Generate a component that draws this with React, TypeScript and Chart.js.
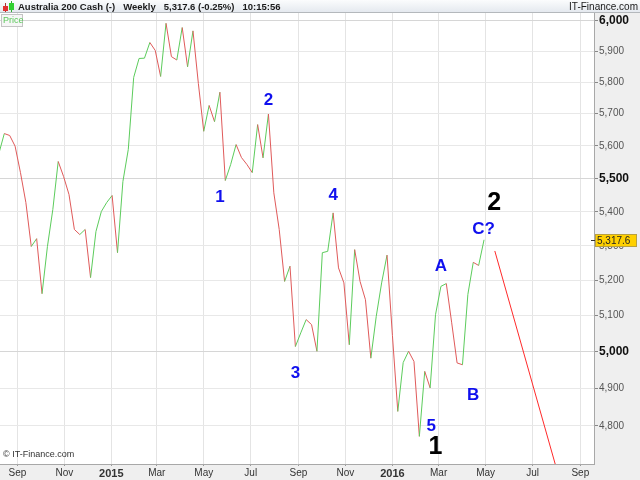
import { useEffect, useRef } from "react";
import { Chart, registerables } from "chart.js";

Chart.register(...registerables);

const START_DATE = "2014-08-08"; // date of the first weekly close (index 0)

const closes = [
  5577, 5638, 5632, 5599, 5518, 5428, 5298, 5321, 5162, 5298,
  5407, 5552, 5506, 5452, 5348, 5333, 5348, 5208, 5342, 5401,
  5428, 5449, 5280, 5491, 5589, 5815, 5876, 5877, 5928, 5902,
  5818, 5991, 5882, 5871, 5977, 5849, 5966, 5796, 5645, 5726,
  5675, 5768, 5494, 5543, 5604, 5564, 5543, 5518, 5666, 5563,
  5699, 5457, 5348, 5197, 5241, 5014, 5052, 5089, 5075, 5001,
  5280, 5284, 5397, 5236, 5193, 5019, 5289, 5197, 5145, 4982,
  5098, 5193, 5273, 5045, 4838, 4970, 5001, 4973, 4772, 4946,
  4901, 5103, 5183, 5191, 5080, 4969, 4964, 5160, 5252, 5243,
  5317.6,
];

const projectionWeeks = [92.0, 103.2];
const projectionValues = [5285, 4700];

const tickDates = [
  "2014-09-01", "2014-11-01", "2015-01-01", "2015-03-01", "2015-05-01",
  "2015-07-01", "2015-09-01", "2015-11-01", "2016-01-01", "2016-03-01",
  "2016-05-01", "2016-07-01", "2016-09-01",
];
const tickLabels = ["Sep", "Nov", "2015", "Mar", "May", "Jul", "Sep", "Nov", "2016", "Mar", "May", "Jul", "Sep"];

const priceTicks = [4800, 4900, 5000, 5100, 5200, 5300, 5400, 5500, 5600, 5700, 5800, 5900, 6000];

const waveLabels = ["1", "2", "3", "4", "5", "1", "A", "B", "C?", "2"];
const waveWeeks = [41.0, 50.0, 55.0, 62.0, 80.2, 81.0, 82.0, 88.0, 89.9, 91.9];
const waveValues = [5442, 5741, 4942, 5448, 4799, 4745, 5241, 4882, 5349, 5427];
const waveMajor = [false, false, false, false, false, true, false, false, false, true];

const headerParts = ["Australia 200 Cash (-)", "Weekly", "5,317.6 (-0.25%)", "10:15:56"];

const LAST_PRICE = 5317.6;
const FONT = "'Liberation Sans', Arial, sans-serif";

const DAY = 86400000;
const weekOf = (d: string) => (Date.parse(d) - Date.parse(START_DATE)) / (7 * DAY);
const tickWeeks = tickDates.map(weekOf);

const fmt = (v: number) => v.toLocaleString("en-US");

const GREEN = "#5ccc5c";
const RED = "#e05a5a";

export default function App() {
  const ref = useRef<HTMLCanvasElement | null>(null);

  useEffect(() => {
    document.body.style.margin = "0";
    const canvas = ref.current;
    if (!canvas) return;

    const bgPlugin = {
      id: "bg",
      beforeDraw(chart: any) {
        const { ctx, width, height, chartArea } = chart;
        ctx.save();
        ctx.fillStyle = "#ffffff";
        ctx.fillRect(0, 0, width, height);
        ctx.fillStyle = "#efefef";
        ctx.fillRect(chartArea.right, 0, width - chartArea.right, height);
        ctx.fillRect(0, chartArea.bottom, width, height - chartArea.bottom);
        ctx.restore();
      },
    };

    const overlayPlugin = {
      id: "overlay",
      afterDatasetsDraw(chart: any) {
        const { ctx, scales, chartArea } = chart;
        const xs = scales.x;
        const ys = scales.y;
        ctx.save();
        ctx.textAlign = "center";
        ctx.textBaseline = "middle";
        waveLabels.forEach((t, i) => {
          const px = xs.getPixelForValue(waveWeeks[i]);
          const py = ys.getPixelForValue(waveValues[i]);
          if (waveMajor[i]) {
            ctx.font = `bold 25px ${FONT}`;
            ctx.fillStyle = "#000000";
          } else {
            ctx.font = `bold 17px ${FONT}`;
            ctx.fillStyle = "#1010ee";
          }
          ctx.fillText(t, px, py);
        });
        ctx.textAlign = "left";
        ctx.font = `9px ${FONT}`;
        ctx.fillStyle = "#333333";
        ctx.fillText("\u00a9 IT-Finance.com", chartArea.left + 3, chartArea.bottom - 9);
        ctx.restore();
      },
      afterDraw(chart: any) {
        const { ctx, width, chartArea, scales } = chart;
        ctx.save();
        const g = ctx.createLinearGradient(0, 0, 0, chartArea.top);
        g.addColorStop(0, "#fbfcfd");
        g.addColorStop(1, "#e3e8ee");
        ctx.fillStyle = g;
        ctx.fillRect(0, 0, width, chartArea.top);
        ctx.strokeStyle = "#b4b8bc";
        ctx.lineWidth = 1;
        ctx.beginPath();
        ctx.moveTo(0, chartArea.top - 0.5);
        ctx.lineTo(width, chartArea.top - 0.5);
        ctx.stroke();
        // candle icon
        ctx.strokeStyle = "#a33";
        ctx.beginPath();
        ctx.moveTo(5.5, 3);
        ctx.lineTo(5.5, 12);
        ctx.stroke();
        ctx.fillStyle = "#e03030";
        ctx.fillRect(3, 6, 5, 5);
        ctx.strokeStyle = "#3a3";
        ctx.beginPath();
        ctx.moveTo(11.5, 1);
        ctx.lineTo(11.5, 12);
        ctx.stroke();
        ctx.fillStyle = "#30d030";
        ctx.fillRect(9, 3, 5, 7);
        // header text, laid out left to right with gaps
        ctx.fillStyle = "#1a1a1a";
        ctx.font = `bold 9.5px ${FONT}`;
        ctx.textBaseline = "middle";
        ctx.textAlign = "left";
        let hx = 18;
        headerParts.forEach((t) => {
          ctx.fillText(t, hx, 7);
          hx += ctx.measureText(t).width + 8;
        });
        ctx.font = `10px ${FONT}`;
        ctx.textAlign = "right";
        ctx.fillText("IT-Finance.com", width - 2, 7);
        // Price box
        ctx.fillStyle = "#f6f6f6";
        ctx.fillRect(1, chartArea.top + 1, 22, 13);
        ctx.strokeStyle = "#c4c4c4";
        ctx.strokeRect(1.5, chartArea.top + 1.5, 21, 12);
        ctx.fillStyle = "#5cc85c";
        ctx.font = `9px ${FONT}`;
        ctx.textAlign = "left";
        ctx.fillText("Price", 3, chartArea.top + 8);
        // last price label
        const py = Math.round(scales.y.getPixelForValue(LAST_PRICE)) + 0.5;
        ctx.fillStyle = "#ffd000";
        ctx.fillRect(chartArea.right + 1, py - 6.5, 42, 13);
        ctx.strokeStyle = "#b8a040";
        ctx.strokeRect(chartArea.right + 1.5, py - 6, 41, 12);
        ctx.strokeStyle = "#333";
        ctx.beginPath();
        ctx.moveTo(chartArea.right - 3, py);
        ctx.lineTo(chartArea.right + 1, py);
        ctx.stroke();
        ctx.fillStyle = "#222";
        ctx.font = `10px ${FONT}`;
        ctx.fillText(fmt(LAST_PRICE), chartArea.right + 3, py + 0.5);
        ctx.restore();
      },
    };

    const chart = new Chart(canvas, {
      type: "line",
      data: {
        datasets: [
          {
            data: closes.map((v, i) => ({ x: i, y: v })),
            borderWidth: 1,
            pointRadius: 0,
            tension: 0,
            borderColor: GREEN,
            segment: {
              borderColor: (c: any) => (c.p1.parsed.y >= c.p0.parsed.y ? GREEN : RED),
            },
          },
          {
            data: projectionWeeks.map((w, i) => ({ x: w, y: projectionValues[i] })),
            borderWidth: 1,
            pointRadius: 0,
            borderColor: "#ff2a2a",
          },
        ],
      },
      plugins: [bgPlugin, overlayPlugin],
      options: {
        responsive: false,
        animation: false,
        events: [],
        layout: { autoPadding: false, padding: { top: 13, left: 0, right: 0, bottom: 0 } },
        plugins: { legend: { display: false }, tooltip: { enabled: false }, title: { display: false } },
        scales: {
          x: {
            type: "linear",
            min: 0.2,
            max: 110.4,
            afterFit: (s: any) => {
              s.height = 16;
            },
            afterBuildTicks: (s: any) => {
              s.ticks = tickWeeks.map((v) => ({ value: v }));
            },
            grid: { color: "#e4e4e4", tickColor: "#999", tickLength: 2 },
            border: { display: true, color: "#a8a8a8" },
            ticks: {
              autoSkip: false,
              maxRotation: 0,
              padding: 1,
              color: "#333",
              font: (c: any) =>
                c.index === 2 || c.index === 8
                  ? { family: FONT, size: 11, weight: "bold" }
                  : { family: FONT, size: 10 },
              callback: (_v: any, i: number) => tickLabels[i],
            },
          },
          y: {
            type: "logarithmic",
            position: "right",
            min: 4700,
            max: 6025,
            afterFit: (s: any) => {
              s.width = 46;
            },
            afterBuildTicks: (s: any) => {
              s.ticks = priceTicks.map((v) => ({ value: v }));
            },
            grid: {
              color: (c: any) => (c.tick && c.tick.value % 500 === 0 ? "#d6d6d6" : "#e8e8e8"),
              tickColor: "#888",
              tickLength: 4,
            },
            border: { display: true, color: "#a8a8a8" },
            ticks: {
              padding: 1,
              autoSkip: false,
              color: (c: any) => (c.tick && c.tick.value % 500 === 0 ? "#111" : "#555"),
              font: (c: any) =>
                c.tick && c.tick.value % 500 === 0
                  ? { family: FONT, size: 12, weight: "bold" }
                  : { family: FONT, size: 10 },
              callback: (v: any) => fmt(Number(v)),
            },
          },
        },
      },
    } as any);

    return () => chart.destroy();
  }, []);

  return <canvas ref={ref} width={640} height={480} style={{ display: "block" }} />;
}
